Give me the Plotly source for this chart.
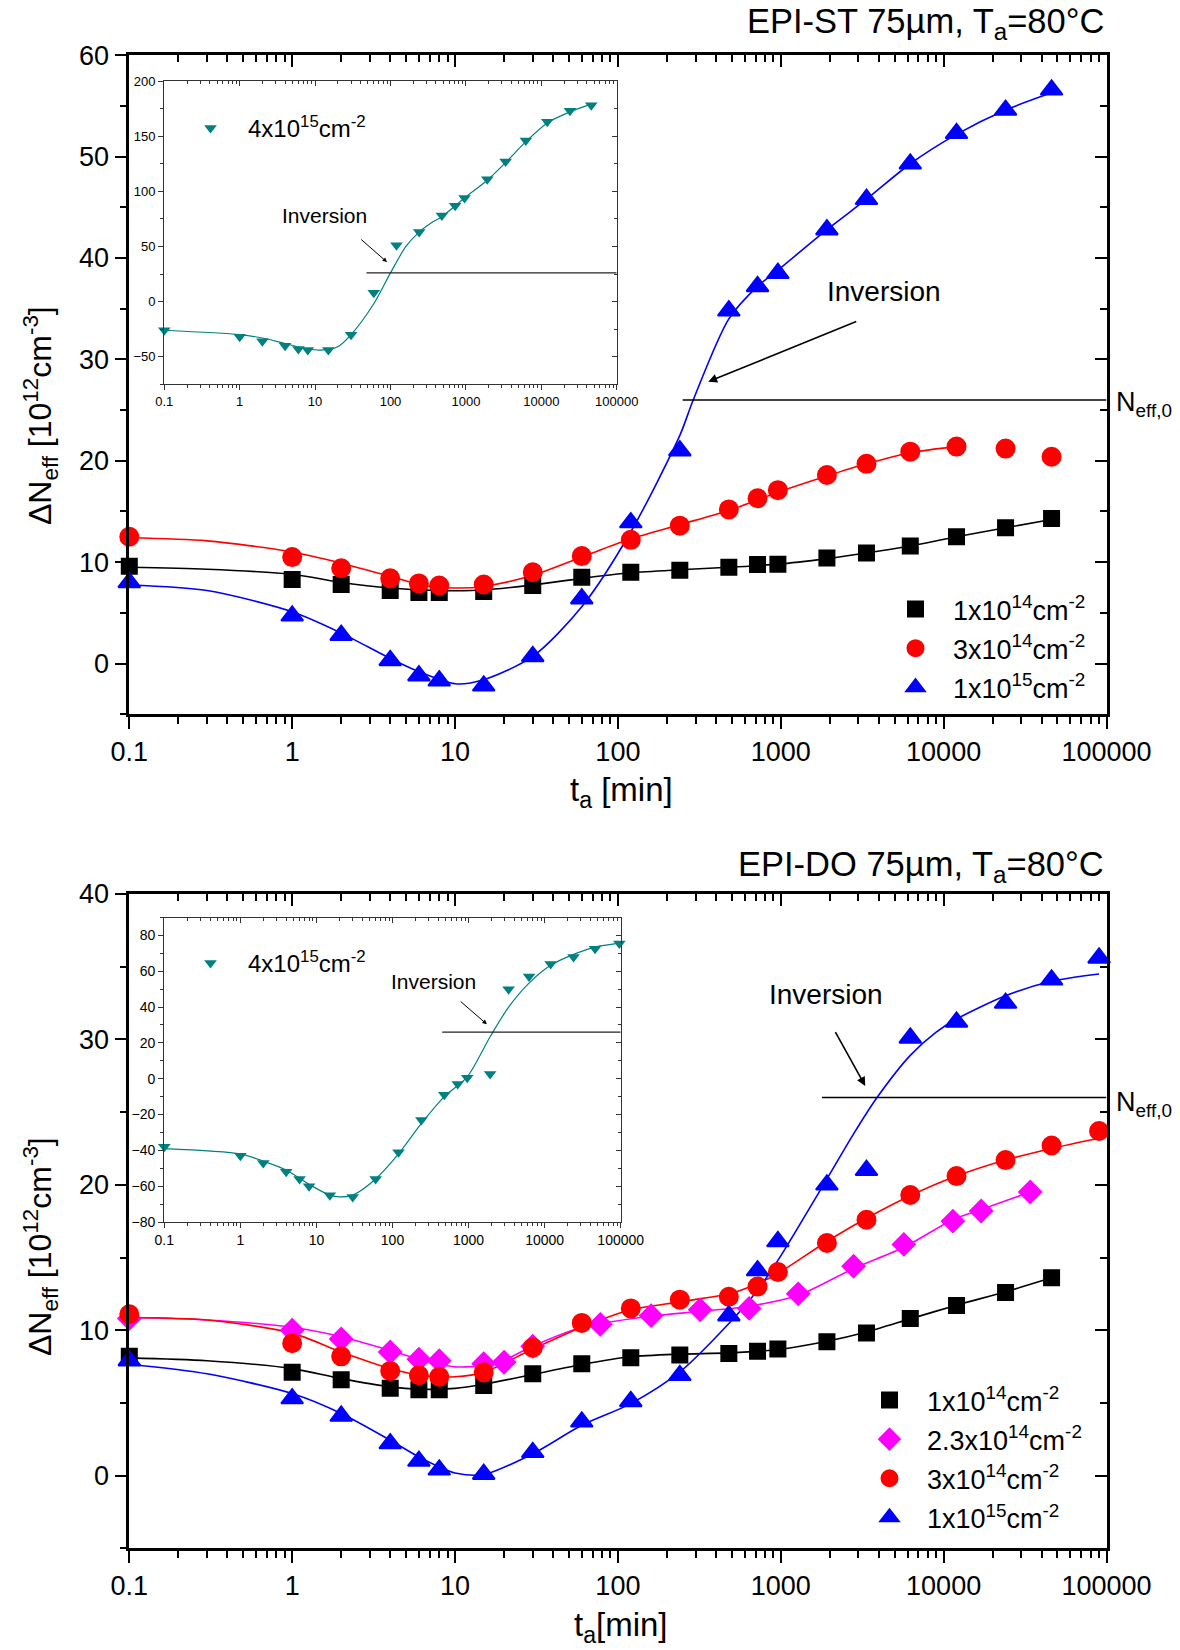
import numpy as np
import plotly.graph_objects as go

W, H = 1180, 1650
FONT = "Liberation Sans, Arial, sans-serif"

# ---------------- data ----------------
# Top panel: EPI-ST 75um
t_top = [0.1, 1, 2, 4, 6, 8, 15, 30, 60, 120, 240, 480, 720, 960, 1920, 3360, 6240, 12000, 24000, 46000]
st_1e14 = [9.6, 8.3, 7.8, 7.2, 7.0, 7.0, 7.1, 7.7, 8.5, 9.0, 9.2, 9.5, 9.77, 9.8, 10.4, 10.9, 11.6, 12.5, 13.4, 14.3]
st_3e14 = [12.5, 10.5, 9.4, 8.4, 7.9, 7.7, 7.8, 9.0, 10.6, 12.2, 13.6, 15.2, 16.3, 17.1, 18.6, 19.7, 20.9, 21.4, 21.2, 20.4]
st_1e15 = [8.0, 4.7, 2.8, 0.3, -1.2, -1.7, -2.2, 0.7, 6.4, 13.9, 21.0, 34.8, 37.2, 38.5, 42.8, 45.8, 49.3, 52.3, 54.6, 56.6]
st_4e15 = [-26, -32, -36, -40, -43, -44, -44, -30, 8, 51, 63, 78, 87, 94, 111, 127, 146, 163, 173, 178]

# fit curves (top)
tf_st_1e14 = [0.1, 0.3, 1, 2, 4, 8, 15, 30, 60, 120, 240, 480, 960, 1920, 3360, 6240, 12000, 24000, 46000]
f_st_1e14 = [9.5, 9.3, 8.8, 8.0, 7.45, 7.2, 7.25, 7.75, 8.4, 8.95, 9.25, 9.5, 9.8, 10.35, 10.9, 11.6, 12.5, 13.4, 14.2]
tf_st_3e14 = [0.1, 0.3, 1, 2, 4, 6, 10, 15, 30, 60, 120, 240, 480, 960, 1920, 3360, 6240, 12000]
f_st_3e14 = [12.4, 12.1, 11.0, 9.9, 8.6, 7.8, 7.45, 7.6, 8.7, 10.5, 12.3, 13.7, 15.1, 16.9, 18.5, 19.7, 20.8, 21.4]
tf_st_1e15 = [0.1, 0.3, 1, 2, 4, 6, 10, 15, 30, 60, 120, 240, 290, 480, 720, 960, 1920, 3360, 6240, 12000, 24000, 46000]
f_st_1e15 = [7.75, 7.2, 5.1, 3.0, 0.5, -0.8, -2.0, -1.6, 0.7, 5.6, 13.0, 22.5, 26.0, 34.0, 37.2, 38.8, 42.8, 45.8, 49.3, 52.2, 54.6, 56.3]
tf_st_4e15 = [0.1, 1, 2, 4, 8, 12, 20, 30, 60, 100, 160, 240, 370, 480, 960, 1920, 3360, 6240, 12000, 24000, 46000]
f_st_4e15 = [-26, -30, -33, -38, -43, -44, -41, -30, -2, 26, 50, 63, 72.5, 77, 94, 110, 126, 145, 162, 172, 179]

# Bottom panel: EPI-DO 75um
t_bot = [0.1, 1, 2, 4, 6, 8, 15, 30, 60, 120, 240, 480, 720, 960, 1920, 3360, 6240, 12000, 24000, 46000]
t_bot_long = [0.1, 1, 2, 4, 6, 8, 15, 30, 60, 120, 240, 480, 720, 960, 1920, 3360, 6240, 12000, 24000, 46000, 90000]
do_1e14 = [8.2, 7.1, 6.6, 6.0, 5.9, 5.9, 6.2, 7.0, 7.7, 8.1, 8.3, 8.4, 8.55, 8.7, 9.2, 9.8, 10.8, 11.7, 12.6, 13.6]
do_3e14 = [11.1, 9.1, 8.2, 7.2, 6.9, 6.8, 7.1, 8.8, 10.5, 11.5, 12.1, 12.3, 13.0, 14.0, 16.0, 17.6, 19.3, 20.6, 21.7, 22.7, 23.7]
do_1e15 = [7.9, 5.3, 4.1, 2.2, 1.0, 0.4, 0.1, 1.6, 3.7, 5.1, 6.9, 11.0, 14.1, 16.1, 20.0, 21.0, 30.1, 31.2, 32.5, 34.1, 35.6]
t_mag = [0.1, 1, 2, 4, 6, 8, 15, 20, 30, 78, 160, 320, 640, 1280, 2800, 5700, 11400, 17000, 34000]
do_23e14 = [10.8, 10.0, 9.4, 8.5, 8.0, 7.9, 7.7, 7.8, 8.9, 10.4, 11.0, 11.4, 11.5, 12.5, 14.4, 15.9, 17.5, 18.2, 19.5]
t_bin = [0.1, 1, 2, 4, 6, 8, 15, 30, 60, 120, 240, 480, 720, 960, 1920, 3360, 6240, 12000, 24000, 46000, 96000]
do_4e15 = [-38, -43, -47, -52, -56, -60, -65, -66, -56, -41, -23, -9, -3, 0.5, 2.6, 50, 57, 64, 68, 72.5, 75.5]

# fit curves (bottom)
tf_do_1e14 = [0.1, 0.3, 1, 2, 4, 6, 10, 15, 30, 60, 120, 240, 480, 960, 1920, 3360, 6240, 12000, 24000, 46000]
f_do_1e14 = [8.1, 7.9, 7.36, 6.67, 6.1, 5.94, 6.0, 6.28, 6.95, 7.64, 8.17, 8.35, 8.44, 8.67, 9.24, 9.88, 10.78, 11.72, 12.64, 13.6]
tf_do_3e14 = [0.1, 0.3, 1, 2, 4, 6, 10, 15, 30, 60, 120, 240, 480, 720, 960, 1920, 3360, 6240, 12000, 24000, 46000, 90000]
f_do_3e14 = [10.87, 10.7, 9.8, 8.5, 7.36, 6.9, 6.8, 7.1, 8.7, 10.2, 11.4, 11.95, 12.5, 13.2, 13.9, 16.1, 17.7, 19.25, 20.6, 21.7, 22.5, 23.2]
tf_do_23e14 = [0.1, 0.3, 1, 2, 4, 6, 10, 15, 20, 30, 60, 78, 160, 320, 640, 1280, 2800, 5700, 11400, 17000, 34000]
f_do_23e14 = [10.87, 10.7, 10.2, 9.55, 8.6, 8.0, 7.48, 7.6, 7.94, 8.9, 10.2, 10.46, 10.96, 11.3, 11.65, 12.4, 14.24, 15.7, 17.6, 18.3, 19.5]
tf_do_1e15 = [0.1, 0.3, 1, 2, 4, 6, 8, 10, 15, 30, 60, 120, 240, 480, 720, 960, 1920, 2800, 3900, 6240, 9000, 12000, 24000, 46000, 90000]
f_do_1e15 = [7.66, 7.0, 5.64, 4.27, 2.43, 1.28, 0.6, 0.18, 0.07, 1.5, 3.46, 4.95, 7.13, 10.46, 12.75, 14.8, 20.4, 23.5, 26.0, 28.9, 30.5, 31.4, 33.0, 34.0, 34.5]
tf_do_4e15 = [0.1, 1, 2, 4, 8, 15, 20, 30, 60, 120, 240, 480, 960, 1920, 3360, 6240, 12000, 24000, 46000, 96000]
f_do_4e15 = [-39, -42, -46, -51, -59, -65, -66, -65, -56, -42, -25, -10, 1, 23.4, 40, 53.4, 63.3, 69.4, 73.5, 75.7]

# N_eff,0 reference levels and line extents
neff0_top, neff0_top_t = 26.0, [250, 100000]
neff0_tin, neff0_tin_t = 26.0, [48, 100000]
neff0_bot, neff0_bot_t = 26.0, [1790, 100000]
neff0_bin, neff0_bin_t = 26.0, [450, 100000]

x_tickvals = [0.1, 1, 10, 100, 1000, 10000, 100000]
x_ticktext = ["0.1", "1", "10", "100", "1000", "10000", "100000"]
x_minor = [m * 10.0 ** e for e in range(-1, 5) for m in range(2, 10)]

# ---------------- layout helpers ----------------
def fx(p):
    return p / W

def fy(p):
    return 1 - p / H

fig = go.Figure()

panels = [
    dict(x="x", y="y", xm="x2", ym="y2", xd=(129.3, 1106.5), yd=(55.3, 714.2), yr=(-5, 60), dt=10, mn=5, main=True, fs=27),
    dict(x="x3", y="y3", xm="x4", ym="y4", xd=(164.3, 616.7), yd=(81.0, 384.3), yr=(-75, 200), dt=50, mn=25, main=False, fs=13),
    dict(x="x5", y="y5", xm="x6", ym="y6", xd=(129.3, 1106.5), yd=(894.0, 1548.3), yr=(-5, 40), dt=10, mn=5, main=True, fs=27),
    dict(x="x7", y="y7", xm="x8", ym="y8", xd=(164.3, 620.7), yd=(917.5, 1222.0), yr=(-80, 90), dt=20, mn=10, main=False, fs=14),
]

def an(ref):
    return ref[0] + "axis" + ref[1:]

layout_axes = {}
for p in panels:
    if p["main"]:
        lc, lw, tl, tml, tw = "black", 2.5, 12, 7, 2
    else:
        lc, lw, tl, tml, tw = "#333333", 1.3, 5, 3, 1
    common_x = dict(type="log", range=[-1, 5], showgrid=False, zeroline=False, showline=True,
                    linecolor=lc, linewidth=lw, tickcolor=lc, tickwidth=tw, ticklen=tl,
                    tickmode="array", tickvals=x_tickvals, ticktext=x_ticktext, fixedrange=True)
    common_y = dict(range=list(p["yr"]), showgrid=False, zeroline=False, showline=True,
                    linecolor=lc, linewidth=lw, tickcolor=lc, tickwidth=tw, ticklen=tl,
                    tick0=0, dtick=p["dt"], fixedrange=True)
    tf = dict(size=p["fs"], family=FONT, color="black")
    layout_axes[an(p["x"])] = dict(common_x, domain=[fx(p["xd"][0]), fx(p["xd"][1])], anchor=p["y"],
                                  ticks="outside", tickfont=tf,
                                  minor=dict(tickmode="array", tickvals=x_minor, ticks="outside",
                                             ticklen=tml, tickwidth=tw, tickcolor=lc))
    layout_axes[an(p["y"])] = dict(common_y, domain=[fy(p["yd"][1]), fy(p["yd"][0])], anchor=p["x"],
                                  ticks="outside", tickfont=tf,
                                  minor=dict(dtick=p["mn"], tick0=0, ticks="outside",
                                             ticklen=tml, tickwidth=tw, tickcolor=lc))
    layout_axes[an(p["xm"])] = dict(common_x, overlaying=p["x"], side="top", anchor=p["ym"],
                                   ticks="inside", showticklabels=False,
                                   minor=dict(tickmode="array", tickvals=x_minor, ticks="inside",
                                              ticklen=tml, tickwidth=tw, tickcolor=lc))
    layout_axes[an(p["ym"])] = dict(common_y, overlaying=p["y"], side="right", anchor=p["xm"],
                                   ticks="inside", showticklabels=False,
                                   minor=dict(dtick=p["mn"], tick0=0, ticks="inside",
                                              ticklen=tml, tickwidth=tw, tickcolor=lc))
    fig.add_trace(go.Scatter(x=[None], y=[None], xaxis=p["xm"], yaxis=p["ym"],
                             showlegend=False, hoverinfo="skip"))

fig.update_layout(**layout_axes)

# ---------------- traces ----------------
def fit(t, v, color, xa, ya, width=1.6):
    fig.add_trace(go.Scatter(x=t, y=v, mode="lines", line=dict(color=color, width=width, shape="spline", smoothing=0.8),
                             xaxis=xa, yaxis=ya, showlegend=False, hoverinfo="skip"))

def pts(t, v, color, symbol, size, lw, name, xa, ya, legend, group):
    fig.add_trace(go.Scatter(x=t, y=v, mode="markers", name=name,
                             marker=dict(color=color, symbol=symbol, size=size, line=dict(width=lw, color=color)),
                             xaxis=xa, yaxis=ya, legend=legend, legendgroup=group, cliponaxis=False))

def hline(tr, level, xa, ya, width=1.6, color="black"):
    fig.add_trace(go.Scatter(x=tr, y=[level, level], mode="lines", line=dict(color=color, width=width),
                             xaxis=xa, yaxis=ya, showlegend=False, hoverinfo="skip"))

BLK, RED, BLU, MAG, TEAL = "#000000", "#FF0000", "#0000FF", "#FF00FF", "#008080"
lab = lambda m, e: f"{m}x10<sup>{e}</sup>cm<sup>-2</sup>"

# top main
fit(tf_st_1e14, f_st_1e14, BLK, "x", "y")
fit(tf_st_3e14, f_st_3e14, RED, "x", "y")
fit(tf_st_1e15, f_st_1e15, BLU, "x", "y")
hline(neff0_top_t, neff0_top, "x", "y")
pts(t_top, st_1e14, BLK, "square", 15, 2, lab(1, 14), "x", "y", "legend", "a1")
pts(t_top, st_3e14, RED, "circle", 18, 2, lab(3, 14), "x", "y", "legend", "a2")
pts(t_top, st_1e15, BLU, "triangle-up", 19, 2, lab(1, 15), "x", "y", "legend", "a3")

# top inset
fit(tf_st_4e15, f_st_4e15, TEAL, "x3", "y3", 1.2)
hline(neff0_tin_t, neff0_tin, "x3", "y3", 1.2, "#222222")
pts(t_top, st_4e15, TEAL, "triangle-down", 11, 0, lab(4, 15), "x3", "y3", "legend3", "b1")

# bottom main
fit(tf_do_1e14, f_do_1e14, BLK, "x5", "y5")
fit(tf_do_23e14, f_do_23e14, MAG, "x5", "y5")
fit(tf_do_3e14, f_do_3e14, RED, "x5", "y5")
fit(tf_do_1e15, f_do_1e15, BLU, "x5", "y5")
hline(neff0_bot_t, neff0_bot, "x5", "y5")
pts(t_bot, do_1e14, BLK, "square", 15, 2, lab(1, 14), "x5", "y5", "legend2", "c1")
pts(t_mag, do_23e14, MAG, "diamond", 17, 2, lab(2.3, 14), "x5", "y5", "legend2", "c2")
pts(t_bot_long, do_3e14, RED, "circle", 18, 2, lab(3, 14), "x5", "y5", "legend2", "c3")
pts(t_bot_long, do_1e15, BLU, "triangle-up", 19, 2, lab(1, 15), "x5", "y5", "legend2", "c4")

# bottom inset
fit(tf_do_4e15, f_do_4e15, TEAL, "x7", "y7", 1.2)
hline(neff0_bin_t, neff0_bin, "x7", "y7", 1.2, "#222222")
pts(t_bin, do_4e15, TEAL, "triangle-down", 11, 0, lab(4, 15), "x7", "y7", "legend4", "d1")

# ---------------- legends ----------------
def leg(xpx, ypx, size, gap):
    return dict(x=fx(xpx), y=fy(ypx), xanchor="left", yanchor="top", bgcolor="rgba(0,0,0,0)",
                font=dict(size=size, family=FONT, color="black"), itemwidth=65,
                tracegroupgap=gap, itemclick=False, itemdoubleclick=False, valign="middle")

fig.update_layout(
    legend=leg(878, 585, 27, 1),
    legend2=leg(852, 1376, 27, 1),
    legend3=leg(173, 106, 24, 0),
    legend4=leg(173, 941, 24, 0),
)

# ---------------- annotations ----------------
L = np.log10
ann = []
def txt(x, y, s, size, xanchor="center", yanchor="middle", angle=0):
    ann.append(dict(x=fx(x), y=fy(y), xref="paper", yref="paper", text=s, showarrow=False,
                    xanchor=xanchor, yanchor=yanchor, textangle=angle,
                    font=dict(size=size, family=FONT, color="black")))

txt(1106, 24, "EPI-ST 75µm, T<sub>a</sub>=80°C", 34.5, xanchor="right")
txt(1106, 866, "EPI-DO 75µm, T<sub>a</sub>=80°C", 34.5, xanchor="right")
txt(621, 792, "t<sub>a</sub> [min]", 33)
txt(621, 1627, "t<sub>a</sub>[min]", 33)
txt(40, 416, "ΔN<sub>eff</sub> [10<sup>12</sup>cm<sup>-3</sup>]", 32, angle=-90)
txt(40, 1247, "ΔN<sub>eff</sub> [10<sup>12</sup>cm<sup>-3</sup>]", 32, angle=-90)
txt(1114, 404, "N<sub>eff,0</sub>", 27, xanchor="left")
txt(1114, 1104, "N<sub>eff,0</sub>", 27, xanchor="left")

def dtxt(t, v, s, size, xa, ya):
    ann.append(dict(x=L(t), y=v, xref=xa, yref=ya, text=s, showarrow=False,
                    font=dict(size=size, family=FONT, color="black")))

def arrow(t0, v0, t1, v1, xa, ya, w=1.5, hs=1.0):
    ann.append(dict(x=L(t1), y=v1, ax=L(t0), ay=v0, xref=xa, yref=ya, axref=xa, ayref=ya,
                    text="", showarrow=True, arrowhead=2, arrowsize=hs, arrowwidth=w, arrowcolor="black"))

dtxt(4300, 36.7, "Inversion", 28, "x", "y")
arrow(2970, 33.8, 359, 27.8, "x", "y", 1.6, 1.1)
dtxt(1890, 33.1, "Inversion", 28, "x5", "y5")
arrow(2140, 30.6, 3300, 26.8, "x5", "y5", 1.6, 1.1)
dtxt(13.4, 77.7, "Inversion", 21, "x3", "y3")
arrow(39, 57.5, 90, 35.8, "x3", "y3", 1.0, 0.9)
dtxt(344, 54.4, "Inversion", 21, "x7", "y7")
arrow(753, 43.8, 1740, 30.4, "x7", "y7", 1.0, 0.9)

fig.update_layout(annotations=ann, width=W, height=H,
                  margin=dict(l=0, r=0, t=0, b=0, autoexpand=False),
                  paper_bgcolor="white", plot_bgcolor="white", showlegend=True,
                  font=dict(family=FONT, color="black"))

fig.write_html("out.html", config={"displayModeBar": False})
